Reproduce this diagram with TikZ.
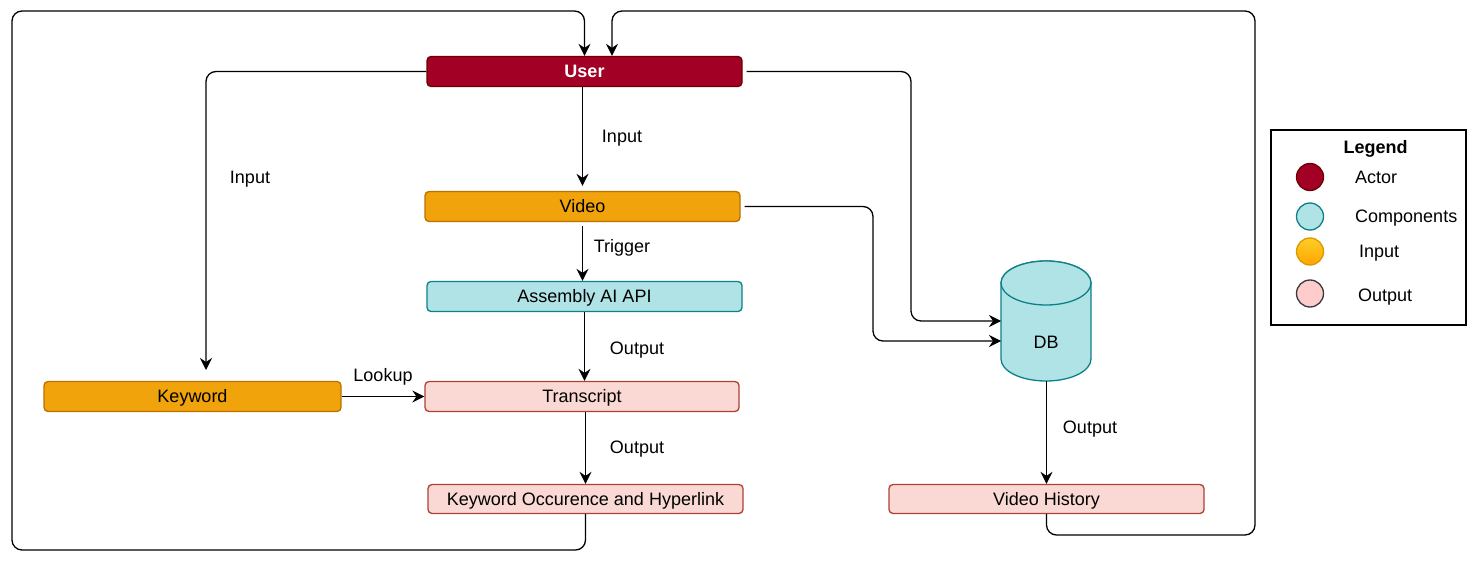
\documentclass[tikz,border=0pt]{standalone}
\usepackage{fontspec}
\setmainfont{Liberation Sans}
\usetikzlibrary{arrows.meta}
\definecolor{actorF}{HTML}{A20025}\definecolor{actorD}{HTML}{6F0000}
\definecolor{inF}{HTML}{F0A30A}\definecolor{inD}{HTML}{BD7000}
\definecolor{cmpF}{HTML}{B0E3E6}\definecolor{cmpD}{HTML}{0E8088}
\definecolor{outF}{HTML}{FAD9D5}\definecolor{outD}{HTML}{AE4132}
\definecolor{lgInTop}{HTML}{FFCD28}\definecolor{lgInBot}{HTML}{FFA500}\definecolor{lgInD}{HTML}{D79B00}
\definecolor{lgOutF}{HTML}{FFCCCC}\definecolor{lgOutD}{HTML}{36393D}
\begin{document}
\begin{tikzpicture}[x=1pt,y=-1pt,
  font=\fontsize{18}{21}\selectfont,
  every node/.style={text height=12.9pt, text depth=0pt},
  box/.style={rounded corners=4pt, line width=1.3pt, minimum width=315pt, minimum height=30pt, inner sep=0pt},
  actorbox/.style={box, fill=actorF, draw=actorD, text=white, font=\fontsize{18}{21}\selectfont\bfseries},
  inbox/.style={box, fill=inF, draw=inD},
  cmpbox/.style={box, fill=cmpF, draw=cmpD},
  outbox/.style={box, fill=outF, draw=outD},
  arr/.style={-{Stealth[length=12pt,width=12pt,inset=4pt]}, line width=1.3pt},
  lbl/.style={inner sep=0pt},
  lgdot/.style={circle, minimum size=27pt, inner sep=0pt, line width=1.3pt, text height=0pt}
]
\useasboundingbox (0,0) rectangle (1467,564);

% nodes
\node[actorbox] (User) at (584.5,71.5) {User};
\node[inbox] (Video) at (582.5,206.5) {Video};
\node[cmpbox] (Assembly) at (584.5,296.5) {Assembly AI API};
\node[outbox, minimum width=314pt] (Transcript) at (582,396.5) {Transcript};
\node[inbox, minimum width=297pt] (Keyword) at (192.5,396.5) {Keyword};
\node[outbox, minimum height=29pt] (KO) at (585.5,499) {Keyword Occurence and Hyperlink};
\node[outbox, minimum height=29pt] (VH) at (1046.5,499) {Video History};

% DB cylinder
\path[fill=cmpF, draw=cmpD, line width=1.3pt] (1001,283) -- (1001,359)
  arc[start angle=180, end angle=360, x radius=45pt, y radius=22pt] -- (1091,283)
  arc[start angle=0, end angle=180, x radius=45pt, y radius=22pt] -- cycle;
\draw[fill=cmpF, draw=cmpD, line width=1.3pt] (1046,283) ellipse [x radius=45pt, y radius=22pt];
\node[lbl] (DB) at (1046,342) {DB};
\coordinate (dbIn1) at (1001,321);
\coordinate (dbIn2) at (1001,341);
\coordinate (dbBot) at (1046.5,381);

% coordinates
\coordinate (kwIn) at (206,370);
\coordinate (dbA) at (911,321);
\coordinate (dbB) at (873,341);
\coordinate (topL) at (584.5,11);
\coordinate (topR) at (612,11);

% connectors
\draw[arr, rounded corners=10pt] (User.west) -| (kwIn);
\draw[arr, rounded corners=10pt, shorten <=4pt] (User.east) -| (dbA) -- (dbIn1);
\draw[arr, rounded corners=10pt, shorten <=4pt] (Video.east) -| (dbB) -- (dbIn2);
\draw[arr, shorten >=5pt] (Video.north |- User.south) -- (Video.north);
\draw[arr, shorten <=4pt] (Video.south) -- (Video.south |- Assembly.north);
\draw[arr] (Assembly.south) -- (Assembly.south |- Transcript.north);
\draw[arr] (Keyword.east) -- (Transcript.west);
\draw[arr] (KO.north |- Transcript.south) -- (KO.north);
\draw[arr] (dbBot) -- (dbBot |- VH.north);
\draw[arr, rounded corners=10pt] (KO.south) |- (12,550) |- (topL) -- (User.north);
\draw[arr, rounded corners=10pt] (VH.south) |- (1255,535) |- (topR) -- (topR |- User.north);

% edge labels
\node[lbl] (l1) at (250,177) {Input};
\node[lbl] (l2) at (622,136) {Input};
\node[lbl] (l3) at (622,246) {Trigger};
\node[lbl] (l4) at (637,348) {Output};
\node[lbl] (l5) at (383,375) {Lookup};
\node[lbl] (l6) at (637,447) {Output};
\node[lbl] (l7) at (1090,427) {Output};

% legend
\node[draw, line width=1.3pt, minimum width=195pt, minimum height=195pt, inner sep=0pt, text height=0pt] (Legend) at (1368.5,227.5) {};
\node[lbl, font=\fontsize{18}{21}\selectfont\bfseries] (lgT) at (1375.5,147) {Legend};
\node[lgdot, fill=actorF, draw=actorD] (lgA) at (1310,177) {};
\node[lgdot, fill=cmpF, draw=cmpD] (lgC) at (1310,216.5) {};
\node[lgdot, top color=lgInTop, bottom color=lgInBot, draw=lgInD] (lgI) at (1310,251.5) {};
\node[lgdot, fill=lgOutF, draw=lgOutD] (lgO) at (1310,293.5) {};
\node[lbl, anchor=west] (lgAt) at (1355,177) {Actor};
\node[lbl, anchor=west] (lgCt) at (1355,216) {Components};
\node[lbl, anchor=west] (lgIt) at (1359,251) {Input};
\node[lbl, anchor=west] (lgOt) at (1358,295) {Output};
\end{tikzpicture}
\end{document}
